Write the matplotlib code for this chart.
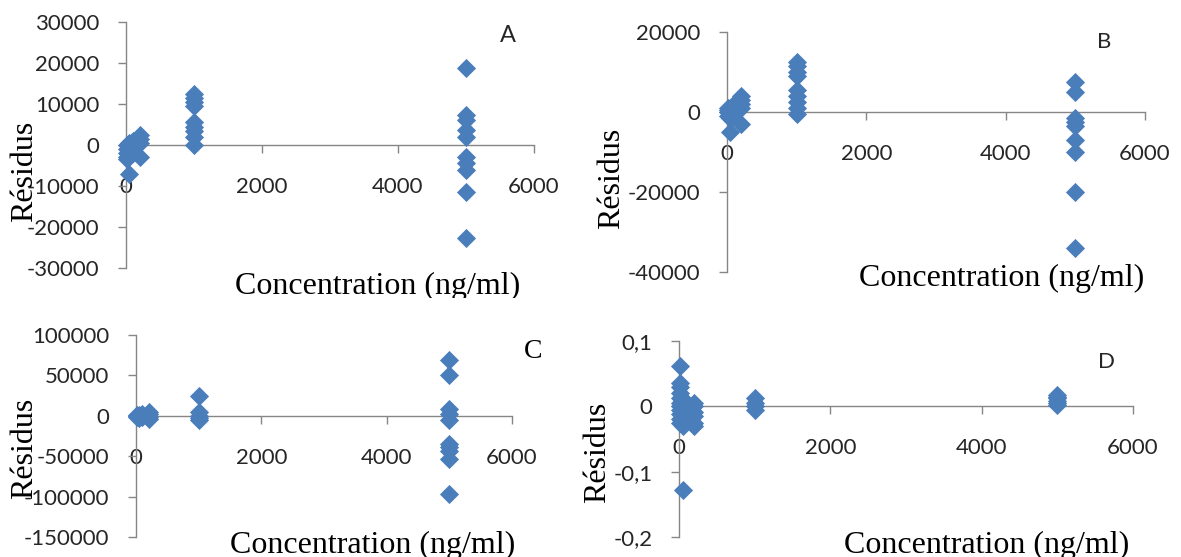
import matplotlib
matplotlib.use("Agg")
import matplotlib.pyplot as plt
from matplotlib.transforms import Bbox, TransformedBbox

plt.rcParams['font.family'] = ['Lato', 'DejaVu Sans']

# ---------------- data ----------------
a_x = [10, 10, 10, 10, 10, 50, 50, 50, 100, 100, 100, 200, 200, 200, 200,
       1000, 1000, 1000, 1000, 1000, 1000, 1000, 1000, 1000,
       5000, 5000, 5000, 5000, 5000, 5000, 5000, 5000, 5000, 5000]
a_y = [0, -1000, -2000, -3000, -3500, -7000, 500, -1500, 1000, -500, -2000, 2500, 1500, 500, -3000,
       12500, 11500, 10500, 9500, 5500, 4500, 3500, 2000, 0,
       18700, 7300, 6100, 3700, 2000, -2900, -4500, -6100, -11400, -22800]

b_x = [10, 10, 10, 10, 50, 50, 100, 100, 100, 200, 200, 200, 200, 200,
       1000, 1000, 1000, 1000, 1000, 1000, 1000, 1000, 1000,
       5000, 5000, 5000, 5000, 5000, 5000, 5000, 5000, 5000]
b_y = [0, -1000, 1000, 500, -5000, -1500, 1500, -500, 2000, 4000, 3000, 2000, 1000, -3000,
       12500, 11500, 10000, 9000, 5500, 4000, 2500, 1000, -500,
       7500, 5000, -1500, -2500, -3500, -7000, -10000, -20000, -34000]

c_x = [10, 10, 10, 50, 50, 100, 100, 200, 200, 200, 200,
       1000, 1000, 1000, 1000, 1000,
       5000, 5000, 5000, 5000, 5000, 5000, 5000, 5000, 5000, 5000]
c_y = [0, -2000, 1000, -3000, 500, 2000, -1000, 5000, 2000, -2000, -4000,
       25000, 5000, 0, -3000, -5000,
       69000, 51000, 8000, 2000, -5000, -35000, -38000, -44000, -54000, -97000]

d_x = [10, 10, 10, 10, 10, 10, 10, 10, 10, 10, 10, 50, 50, 50, 100, 100, 100, 100,
       200, 200, 200, 200, 200, 200, 1000, 1000, 1000, 1000,
       5000, 5000, 5000, 5000, 5000, 5000]
d_y = [0.062, 0.035, 0.03, 0.02, 0.012, 0.005, 0, -0.005, -0.012, -0.02, -0.025,
       -0.128, -0.03, 0.01, 0.005, -0.01, -0.02, 0,
       0.005, 0, -0.008, -0.015, -0.025, -0.03, 0.012, 0.005, 0, -0.005,
       0.018, 0.015, 0.012, 0.008, 0.005, 0.002]

x_ticks = [0, 2000, 4000, 6000]
x_ticklabels = ['0', '2000', '4000', '6000']
a_yticks = [-30000, -20000, -10000, 0, 10000, 20000, 30000]
b_yticks = [-40000, -20000, 0, 20000]
c_yticks = [-150000, -100000, -50000, 0, 50000, 100000]
d_yticks = [-0.2, -0.1, 0, 0.1]
d_yticklabels = ['-0,2', '-0,1', '0', '0,1']

panel_letters = ['A', 'B', 'C', 'D']
x_label = 'Concentration (ng/ml)'
y_label = 'Résidus'

# ---------------- layout ----------------
W, H = 1181, 557
fig = plt.figure(figsize=(W / 100, H / 100), dpi=100)

BLUE = '#4A7EBB'
GRAY = '#868686'
TXT = '#262626'


def make_ax(l, r, t, b):
    return fig.add_axes([l / W, 1 - b / H, (r - l) / W, (b - t) / H])


def style(ax, xs, ys, yticks, ylim, yticklabels=None):
    ax.scatter(xs, ys, marker='D', s=95, color=BLUE, linewidths=0, zorder=3, clip_on=False)
    ax.set_xlim(0, 6000)
    ax.set_ylim(*ylim)
    ax.patch.set_alpha(0)
    for s in ('top', 'right'):
        ax.spines[s].set_visible(False)
    ax.spines['bottom'].set_position(('data', 0))
    for s in ('left', 'bottom'):
        ax.spines[s].set_color(GRAY)
        ax.spines[s].set_linewidth(1)
    ax.set_xticks(x_ticks)
    ax.set_xticklabels(x_ticklabels)
    ax.set_yticks(yticks)
    if yticklabels is None:
        yticklabels = [f'{v:d}' for v in yticks]
    ax.set_yticklabels(yticklabels)
    ax.tick_params(axis='y', direction='out', length=6, width=1, color=GRAY,
                   pad=13, labelsize=16, labelcolor=TXT)
    ax.tick_params(axis='x', direction='out', length=6, width=1, color=GRAY,
                   pad=17, labelsize=16, labelcolor=TXT)


def clipped_text(x, y, s, y0, y1, **kw):
    t = fig.text(x / W, 1 - y / H, s, **kw)
    t.set_clip_box(TransformedBbox(Bbox.from_extents(0, 1 - y1 / H, 1, 1 - y0 / H), fig.transFigure))
    t.set_clip_on(True)
    return t


serif = ['Liberation Serif', 'DejaVu Serif']

axA = make_ax(126, 534, 22, 268)
style(axA, a_x, a_y, a_yticks, (-30000, 30000))
axB = make_ax(727, 1145, 32, 272)
style(axB, b_x, b_y, b_yticks, (-40000, 20000))
axC = make_ax(136, 512, 335, 537)
style(axC, c_x, c_y, c_yticks, (-150000, 100000))
axD = make_ax(679, 1133, 341, 537)
style(axD, d_x, d_y, d_yticks, (-0.2, 0.1), d_yticklabels)

# axis titles
for (cx, cy, y0, y1) in [(378, 286, 0, 298), (1002, 278, 0, 300), (373, 545, 300, 557), (987, 545, 300, 557)]:
    clipped_text(cx, cy, x_label, y0, y1, ha='center', va='center', fontsize=23,
                 family=serif, color='black')
for (cx, cy, y0, y1) in [(25, 171, 0, 300), (612, 178, 0, 300), (25, 448, 300, 557), (598, 452, 300, 557)]:
    clipped_text(cx, cy, y_label, y0, y1, ha='center', va='center', fontsize=23,
                 family=serif, rotation=90, color='black')

# panel letters
fig.text(508 / W, 1 - 35 / H, panel_letters[0], ha='center', va='center', fontsize=17, color=TXT)
fig.text(1104 / W, 1 - 42 / H, panel_letters[1], ha='center', va='center', fontsize=16, color=TXT)
fig.text(533 / W, 1 - 352 / H, panel_letters[2], ha='center', va='center', fontsize=20,
         family=serif, color='black')
fig.text(1107 / W, 1 - 362 / H, panel_letters[3], ha='center', va='center', fontsize=16, color=TXT)

fig.savefig('out.png', dpi=100, facecolor='white')
